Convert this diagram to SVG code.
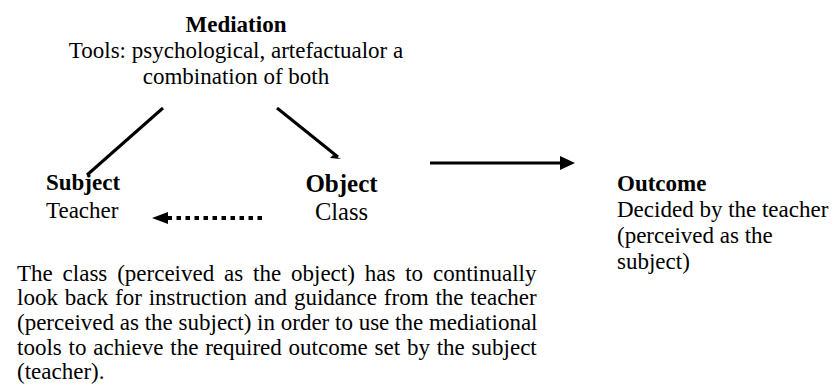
<svg xmlns="http://www.w3.org/2000/svg" width="833" height="391" viewBox="0 0 833 391">
<style>
text{font-family:"Liberation Serif","Times New Roman",serif;font-size:23px;fill:#000}
.b{font-weight:bold}
.c{text-anchor:middle}
.ln{stroke:#000;stroke-width:3;fill:none}
</style>
<defs>
<marker id="ah" markerWidth="10" markerHeight="10" refX="9" refY="5" orient="auto" markerUnits="userSpaceOnUse" viewBox="0 0 10 10">
<path d="M0,0 L10,5 L0,10 Z" fill="#000"/>
</marker>
</defs>
<rect width="833" height="391" fill="#fff"/>
<g id="mediation">
<text class="b c" x="236" y="32">Mediation</text>
<text class="c" x="236" y="58">Tools: psychological, artefactualor a</text>
<text class="c" x="236" y="84">combination of both</text>
</g>
<g id="subject">
<text class="b" x="46" y="190">Subject</text>
<text x="46" y="218">Teacher</text>
</g>
<g id="object">
<text class="b c" x="341.5" y="192" style="font-size:25px">Object</text>
<text class="c" x="341.5" y="220" style="font-size:24.5px">Class</text>
</g>
<g id="outcome">
<text class="b" x="617" y="191">Outcome</text>
<text x="617" y="217">Decided by the teacher</text>
<text x="617" y="243">(perceived as the</text>
<text x="617" y="269">subject)</text>
</g>
<g id="note">
<text x="17" y="281" word-spacing="4.1">The class (perceived as the object) has to continually</text>
<text x="17" y="305" word-spacing="1.1">look back for instruction and guidance from the teacher</text>
<text x="17" y="330">(perceived as the subject) in order to use the mediational</text>
<text x="17" y="355" word-spacing="1.05">tools to achieve the required outcome set by the subject</text>
<text x="17" y="379">(teacher).</text>
</g>
<g id="connectors">
<line class="ln" x1="87" y1="175" x2="163" y2="108"/>
<line class="ln" x1="277" y1="108" x2="338" y2="157"/>
<path d="M341,159 L330,158 L333,155 Z" fill="#000"/>
<line class="ln" x1="430" y1="163" x2="562" y2="163"/>
<path d="M575,163 L560,156 L560,170 Z" fill="#000"/>
<line x1="262" y1="218" x2="165" y2="218" stroke="#000" stroke-width="4" stroke-dasharray="4.5 4.5"/>
<path d="M152,218 L168,212 L168,224 Z" fill="#000"/>
</g>
</svg>
